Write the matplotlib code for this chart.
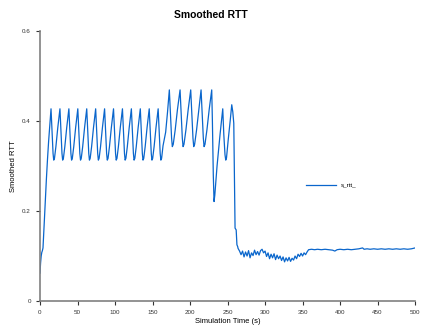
import matplotlib
matplotlib.use("Agg")
import matplotlib.pyplot as plt

plt.rcParams['font.family'] = ['Liberation Sans', 'DejaVu Sans']

# startup ramp
start_t = [0, 0.8, 1.6, 2.4, 3.2, 4.0, 5.0, 6.0, 7.0, 8.5, 10.0, 11.5, 13.0, 14.0]
start_v = [0.062, 0.085, 0.100, 0.108, 0.112, 0.118, 0.150, 0.185, 0.220, 0.270, 0.315, 0.355, 0.390, 0.412]

# small oscillations (peak, fall, trough, rise)
osc1_t = [14.7, 16.2, 17.4, 18.3, 19.3, 21.2, 23.7,
          26.6, 28.1, 29.3, 30.2, 31.2, 33.1, 35.6,
          38.5, 40.0, 41.2, 42.1, 43.1, 45.0, 47.5,
          50.4, 51.9, 53.1, 54.0, 55.0, 56.9, 59.4,
          62.3, 63.8, 65.0, 65.9, 66.9, 68.8, 71.3,
          74.2, 75.7, 76.9, 77.8, 78.8, 80.7, 83.2,
          86.1, 87.6, 88.8, 89.7, 90.7, 92.6, 95.1,
          98.0, 99.5, 100.7, 101.6, 102.6, 104.5, 107.0,
          109.9, 111.4, 112.6, 113.5, 114.5, 116.4, 118.9,
          121.8, 123.3, 124.5, 125.4, 126.4, 128.3, 130.8,
          133.7, 135.2, 136.4, 137.3, 138.3, 140.2, 142.7,
          145.6, 147.1, 148.3, 149.2, 150.2, 152.1, 154.6,
          157.5, 159.0, 160.2, 161.1, 162.1, 164.0, 167.5, 170.0]
osc1_v = [0.427, 0.372, 0.328, 0.313, 0.317, 0.343, 0.385,
          0.427, 0.372, 0.328, 0.313, 0.317, 0.343, 0.385,
          0.427, 0.372, 0.328, 0.313, 0.317, 0.343, 0.385,
          0.427, 0.372, 0.328, 0.313, 0.317, 0.343, 0.385,
          0.427, 0.372, 0.328, 0.313, 0.317, 0.343, 0.385,
          0.427, 0.372, 0.328, 0.313, 0.317, 0.343, 0.385,
          0.427, 0.372, 0.328, 0.313, 0.317, 0.343, 0.385,
          0.427, 0.372, 0.328, 0.313, 0.317, 0.343, 0.385,
          0.427, 0.372, 0.328, 0.313, 0.317, 0.343, 0.385,
          0.427, 0.372, 0.328, 0.313, 0.317, 0.343, 0.385,
          0.427, 0.372, 0.328, 0.313, 0.317, 0.343, 0.385,
          0.427, 0.372, 0.328, 0.313, 0.317, 0.343, 0.385,
          0.427, 0.372, 0.328, 0.313, 0.317, 0.345, 0.375, 0.420]

# larger oscillations
osc2_t = [172.4, 174.0, 175.4, 176.4, 177.6, 180.2, 183.2,
          186.7, 188.3, 189.7, 190.7, 191.9, 194.5, 197.5,
          200.9, 202.5, 203.9, 204.9, 206.1, 208.7, 211.7,
          214.7, 216.3, 217.7, 218.7, 219.9, 222.5, 225.5]
osc2_v = [0.469, 0.410, 0.362, 0.343, 0.348, 0.380, 0.425,
          0.469, 0.410, 0.362, 0.343, 0.348, 0.380, 0.425,
          0.469, 0.410, 0.362, 0.343, 0.348, 0.380, 0.425,
          0.469, 0.410, 0.362, 0.343, 0.348, 0.380, 0.425]

# dip and collapse
drop_t = [228.9, 229.8, 231.0, 232.0, 233.0, 236.0, 240.0, 243.6, 245.0, 246.6, 247.6,
          248.6, 251.0, 253.5, 255.6, 257.0, 258.3, 259.0, 260.0, 261.5, 262.5, 263.5]
drop_v = [0.469, 0.400, 0.280, 0.221, 0.235, 0.300, 0.370, 0.427, 0.370, 0.325, 0.313,
          0.318, 0.360, 0.400, 0.436, 0.420, 0.395, 0.300, 0.162, 0.158, 0.125, 0.121]

# noisy low region
noise_t = list(range(264, 358, 2))
noise_v = [0.117, 0.111, 0.103, 0.111, 0.098, 0.109, 0.100, 0.112, 0.096, 0.107,
           0.101, 0.113, 0.103, 0.110, 0.102, 0.112, 0.115, 0.107, 0.111, 0.099,
           0.107, 0.094, 0.104, 0.096, 0.105, 0.092, 0.102, 0.094, 0.100, 0.090,
           0.098, 0.087, 0.096, 0.089, 0.097, 0.088, 0.095, 0.091, 0.100, 0.094,
           0.104, 0.099, 0.106, 0.100, 0.107, 0.103, 0.109]

# steady state
steady_t = [358, 362, 366, 370, 375, 380, 385, 390, 393, 396, 400, 405, 410, 415, 420,
            425, 430, 432, 436, 440, 445, 450, 455, 460, 465, 470, 475, 480, 485, 490, 495, 500]
steady_v = [0.114, 0.115, 0.114, 0.115, 0.114, 0.115, 0.114, 0.113, 0.111, 0.114, 0.115,
            0.114, 0.115, 0.114, 0.115, 0.116, 0.118, 0.115, 0.116, 0.115, 0.116, 0.115,
            0.116, 0.115, 0.116, 0.115, 0.116, 0.115, 0.116, 0.115, 0.116, 0.118]

t = start_t + osc1_t + osc2_t + drop_t + noise_t + steady_t
v = start_v + osc1_v + osc2_v + drop_v + noise_v + steady_v

fig = plt.figure(figsize=(4.21, 3.29), dpi=100)
ax = fig.add_axes([0.095, 0.085, 0.891, 0.821])
ax.plot(t, v, color='#0a66cc', lw=0.9, label='s_rtt_')

ax.set_xlim(0, 500)
ax.set_ylim(0, 0.6)
ax.set_xticks(range(0, 501, 50))
ax.set_yticks([0, 0.2, 0.4, 0.6])
ax.set_yticklabels(['0', '0.2', '0.4', '0.6'])
ax.tick_params(labelsize=4.5, length=3, width=0.8, colors='#333333', labelcolor='#333333')
for s in ['top', 'right']:
    ax.spines[s].set_visible(False)
for s in ['left', 'bottom']:
    ax.spines[s].set_color('#808080')
    ax.spines[s].set_linewidth(1.2)

ax.set_xlabel('Simulation Time (s)', fontsize=5.5, labelpad=2)
ax.set_ylabel('Smoothed RTT', fontsize=5.5, labelpad=4)
fig.text(0.5, 0.955, 'Smoothed RTT', ha='center', va='center', fontsize=7.5, fontweight='bold')

ax.legend(loc='center left', bbox_to_anchor=(0.695, 0.426), frameon=False,
          fontsize=4.5, handlelength=4.8, handletextpad=0.7)

fig.savefig('out.png', dpi=100)
